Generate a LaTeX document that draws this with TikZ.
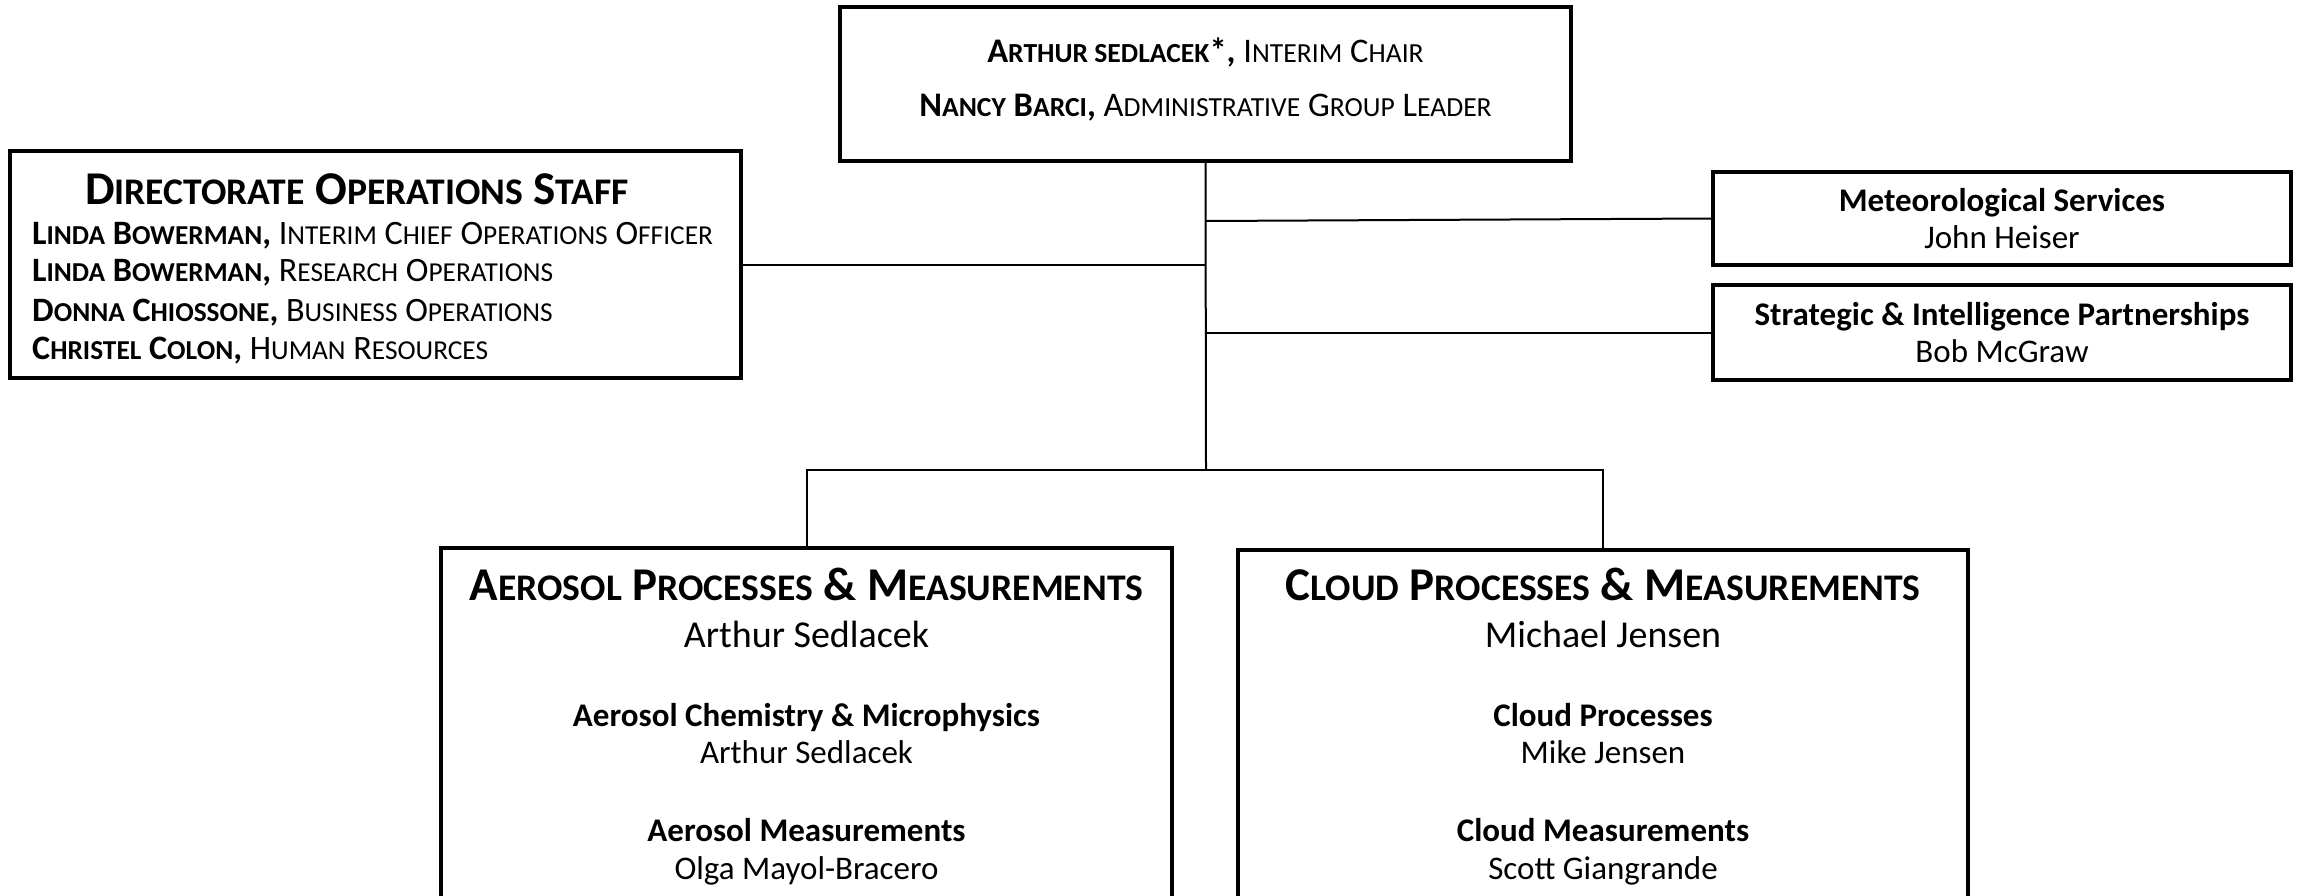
\documentclass[tikz,border=0pt]{standalone}
\usepackage{fontspec}
\setmainfont{Carlito}
\makeatletter
\newcommand\lo[1]{{\fontsize{\fpeval{0.8*\f@size}}{0}\selectfont #1}}
\makeatother
\newcommand\fs[1]{\fontsize{#1}{#1}\selectfont}
\tikzset{
  box/.style={draw=black, line width=4pt, fill=white, inner sep=0pt, rectangle},
  conn/.style={draw=black, line width=2pt},
  txt/.style={inner sep=0pt, font=\fs{#1}, anchor=base},
  ltxt/.style={inner sep=0pt, font=\fs{#1}, anchor=base west},
}
\begin{document}
\begin{tikzpicture}[x=1pt,y=-1pt]
\useasboundingbox (0,0) rectangle (2300,895);
\clip (0,0) rectangle (2300,895);
% boxes
\node[box, minimum width=731pt, minimum height=154pt] (top) at (1205.5,84) {};
\node[box, minimum width=731pt, minimum height=227pt] (ops) at (375.5,264.5) {};
\node[box, minimum width=578pt, minimum height=93pt] (met) at (2002,218.5) {};
\node[box, minimum width=578pt, minimum height=95pt] (sip) at (2002,332.5) {};
\node[box, minimum width=731pt, minimum height=500pt] (aer) at (806.5,798) {};
\node[box, minimum width=730pt, minimum height=500pt] (cld) at (1603,800) {};
% connectors
\coordinate (j) at (1206,470);
\draw[conn] (top.south) -- (j);
\draw[conn] (aer.north) |- (j) -| (cld.north);
\draw[conn] (ops.east) -- (ops.east -| top.south);
\draw[conn] (met.west) -- ([yshift=-2.5pt]met.west -| top.south);
\draw[conn] (sip.west) -- (sip.west -| top.south);
% top box text
\node[txt=34.5] (t1) at (1205.5,62) {\textbf{A\lo{RTHUR SEDLACEK}*,} I\lo{NTERIM} C\lo{HAIR}};
\node[txt=34.5] (t2) at (1205.5,116.5) {\textbf{N\lo{ANCY} B\lo{ARCI},} A\lo{DMINISTRATIVE} G\lo{ROUP} L\lo{EADER}};
% ops
\node[txt=47] (o0) at (357,204) {\textbf{D\lo{IRECTORATE} O\lo{PERATIONS} S\lo{TAFF}}};
\node[ltxt=34.2] (o1) at (32,244) {\textbf{L\lo{INDA} B\lo{OWERMAN},} I\lo{NTERIM} C\lo{HIEF} O\lo{PERATIONS} O\lo{FFICER}};
\node[ltxt=34.2] (o2) at (32,281.5) {\textbf{L\lo{INDA} B\lo{OWERMAN},} R\lo{ESEARCH} O\lo{PERATIONS}};
\node[ltxt=34.2] (o3) at (32,321.5) {\textbf{D\lo{ONNA} C\lo{HIOSSONE},} B\lo{USINESS} O\lo{PERATIONS}};
\node[ltxt=34.2] (o4) at (32,359.5) {\textbf{C\lo{HRISTEL} C\lo{OLON},} H\lo{UMAN} R\lo{ESOURCES}};
% right
\node[txt=33] (m1) at (2002,211) {\textbf{Meteorological Services}};
\node[txt=33] (m2) at (2002,248.5) {John Heiser};
\node[txt=33] (s1) at (2002,325) {\textbf{Strategic \& Intelligence Partnerships}};
\node[txt=33] (s2) at (2002,362.5) {Bob McGraw};
% aerosol
\node[txt=47] (a0) at (806.5,600.5) {\textbf{A\lo{EROSOL} P\lo{ROCESSES} \& M\lo{EASUREMENTS}}};
\node[txt=38] (a1) at (806.5,647.5) {Arthur Sedlacek};
\node[txt=33] (a2) at (806.5,726) {\textbf{Aerosol Chemistry \& Microphysics}};
\node[txt=33] (a3) at (806.5,763) {Arthur Sedlacek};
\node[txt=33] (a4) at (806.5,841) {\textbf{Aerosol Measurements}};
\node[txt=33] (a5) at (806.5,879) {Olga Mayol-Bracero};
% cloud
\node[txt=47] (c0) at (1603,600.5) {\textbf{C\lo{LOUD} P\lo{ROCESSES} \& M\lo{EASUREMENTS}}};
\node[txt=38] (c1) at (1603,647.5) {Michael Jensen};
\node[txt=33] (c2) at (1603,726) {\textbf{Cloud Processes}};
\node[txt=33] (c3) at (1603,763) {Mike Jensen};
\node[txt=33] (c4) at (1603,841) {\textbf{Cloud Measurements}};
\node[txt=33] (c5) at (1603,879) {Scott Giangrande};
\end{tikzpicture}
\end{document}
